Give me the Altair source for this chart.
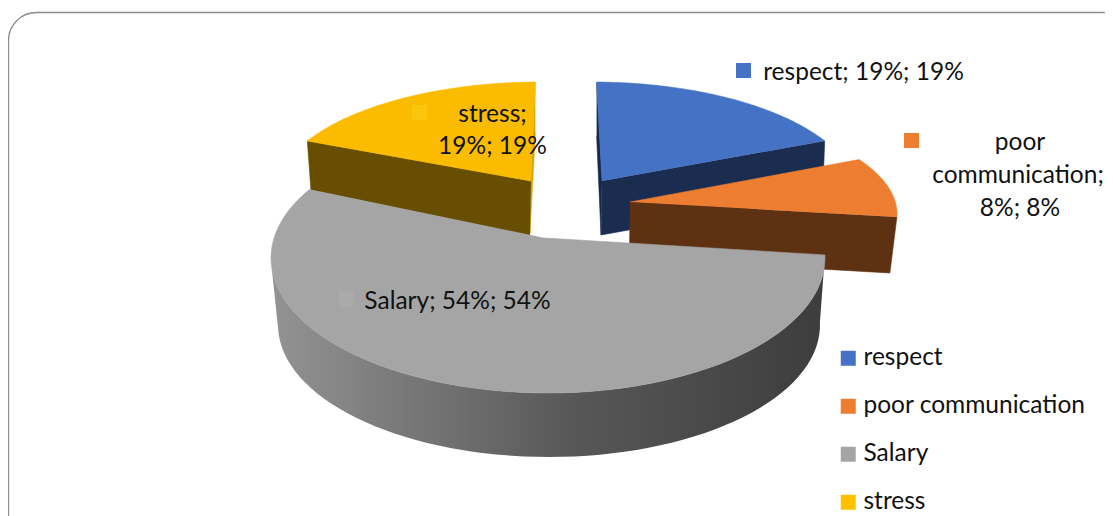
import numpy as np
import pandas as pd
import altair as alt

categories = ["respect", "poor communication", "Salary", "stress"]
shares = [19, 8, 54, 19]
top_colors = ["#4472c4", "#ed7d31", "#a5a5a5", "#fbbc00"]
side_colors = ["#1a2c50", "#5f3113", None, "#674e00"]

W, H = 1097, 508
FONT = "Lato"
FS = 24.5
INK = "#111111"

# image-space scales
X = alt.Scale(domain=[8, 1105], range=[0, W], nice=False, zero=False)
Y = alt.Scale(domain=[8, 516], range=[0, H], nice=False, zero=False)

# sweep of every slice, from its share of the whole
cum = np.cumsum([0] + shares) * 3.6
# view geometry of each exploded slice: apex, ellipse centre, semi axes, depth,
# lean of the cut wall, angle shift at the start and the end of the sweep (perspective)
view = {
    "respect": dict(apex=(602, 181), c=(592, 195), a=265, b=113, d=54, lean=-2, s0=1, s1=-7),
    "poor communication": dict(apex=(630, 202), c=(625, 214), a=272, b=107, d=56, lean=-7, s0=-9, s1=-5.6),
    "Salary": dict(apex=(545, 238), c=(548, 258), a=277, b=135, d=67, lean=0, s0=-8.5, s1=9),
    "stress": dict(apex=(531, 181), c=(540, 195), a=265, b=113, d=55, lean=4, s0=7, s1=-1),
}


def sweep(name, k):
    v = view[name]
    return np.linspace(cum[k] + v["s0"], cum[k + 1] + v["s1"], 80)


def arc(name, k):
    v = view[name]
    t = np.radians(sweep(name, k))
    return v["c"][0] + v["a"] * np.sin(t), v["c"][1] - v["b"] * np.cos(t)


def poly(xs, ys, fill, stroke=True):
    df = pd.DataFrame({"x": xs, "y": ys, "i": np.arange(len(xs))})
    kw = dict(stroke=fill, strokeWidth=0.6) if stroke else dict(strokeWidth=0, opacity=1)
    return alt.Chart(df).mark_line(fill=fill, interpolate="linear", **kw).encode(
        x=alt.X("x:Q", scale=X, axis=None),
        y=alt.Y("y:Q", scale=Y, axis=None),
        order=alt.Order("i:Q"),
    )


def top_face(k):
    name = categories[k]
    v = view[name]
    ax, ay = arc(name, k)
    return poly(np.r_[v["apex"][0], ax], np.r_[v["apex"][1], ay], top_colors[k])


def cut_face(k, end, fill=None):
    """flat cut wall, from the apex to one end of the arc"""
    name = categories[k]
    v = view[name]
    ax, ay = arc(name, k)
    ex, ey = ax[end], ay[end]
    d = v["d"]
    return poly(
        [v["apex"][0], ex, ex + v["lean"], v["apex"][0] - 1],
        [v["apex"][1], ey, ey + d, v["apex"][1] + d],
        fill or side_colors[k],
    )


# salary rim: only the part of the sweep that faces the viewer
front = sweep("Salary", 2) <= 270
sx, sy = arc("Salary", 2)
sx, sy = sx[front], sy[front]
rx = 549 + 271 / 277 * (sx - 548)
ry = 325 + 132 / 135 * (sy - 258)
rim_fill = alt.LinearGradient(
    gradient="linear",
    x1=0, x2=1, y1=0, y2=0,
    stops=[
        alt.GradientStop(offset=0, color="#939393"),
        alt.GradientStop(offset=0.55, color="#575757"),
        alt.GradientStop(offset=1, color="#3d3d3d"),
    ],
)
rim = poly(np.r_[sx, rx[::-1]], np.r_[sy, ry[::-1]], rim_fill, stroke=False)

# thin inner walls of the back slices
ax0, ay0 = arc("respect", 0)
wall_r = poly([ax0[0], 602, 601, ax0[0]], [ay0[0], 181, 235, ay0[0] + 54], "#16294a")
ax3, ay3 = arc("stress", 3)
wall_s = poly([ax3[-1], 531, 530, ax3[-1]], [ay3[-1], 181, 233, ay3[-1] + 50], "#d8a200")

# frame
frame = alt.Chart(pd.DataFrame({"x": [8.5], "x2": [1130], "y": [12.5], "y2": [580]})).mark_rect(
    fill="#ffffff", stroke="#8c8c8c", strokeWidth=1.3, cornerRadius=28
).encode(
    x=alt.X("x:Q", scale=X, axis=None), x2="x2:Q",
    y=alt.Y("y:Q", scale=Y, axis=None), y2="y2:Q",
)

# data labels
label_lines = pd.DataFrame(
    {
        "t": ["respect; 19%; 19%", "poor", "communication;", "8%; 8%", "stress;", "19%; 19%", "Salary; 54%; 54%"],
        "x": [863.5, 1020, 1018, 1020, 492.5, 492.5, 457.5],
        "y": [72.5, 143, 175.5, 208.5, 114.5, 146.5, 301.5],
    }
)
labels = alt.Chart(label_lines).mark_text(font=FONT, fontSize=FS, color=INK, align="center", baseline="middle").encode(
    x=alt.X("x:Q", scale=X, axis=None), y=alt.Y("y:Q", scale=Y, axis=None), text="t:N"
)

keys = pd.DataFrame({"c": categories, "x": [743.5, 911.5, 346, 419.5], "y": [70.5, 140.5, 299, 112.5]})
key_marks = alt.Chart(keys).mark_square(size=225, opacity=1).encode(
    x=alt.X("x:Q", scale=X, axis=None),
    y=alt.Y("y:Q", scale=Y, axis=None),
    color=alt.Color(
        "c:N",
        scale=alt.Scale(domain=categories, range=["#4472c4", "#ed7d31", "#a5a5a5", "#ffc000"]),
        sort=None,
        legend=alt.Legend(
            title=None, orient="none", legendX=828, legendY=338, padding=0,
            symbolType="square", symbolSize=225, symbolStrokeWidth=0, symbolOpacity=1,
            labelFont=FONT, labelFontSize=FS, labelColor=INK, labelOffset=3, rowPadding=23,
            labelLimit=400,
        ),
    ),
)
faint = alt.Chart(keys.iloc[2:].assign(f=["#aaaaaa", "#fcc40a"])).mark_square(size=225, opacity=1).encode(
    x=alt.X("x:Q", scale=X, axis=None),
    y=alt.Y("y:Q", scale=Y, axis=None),
    fill=alt.Fill("f:N", scale=None),
)

chart = alt.layer(
    frame,
    wall_r, cut_face(0, -1), top_face(0),
    wall_s, cut_face(3, 0), top_face(3),
    cut_face(1, -1), top_face(1),
    rim, top_face(2),
    key_marks, faint, labels,
).properties(
    width=W, height=H, padding=0, autosize=alt.AutoSizeParams(type="none"), background="#ffffff"
).configure_view(strokeWidth=0)

chart.save("out.html", embed_options={"renderer": "svg", "actions": False})
